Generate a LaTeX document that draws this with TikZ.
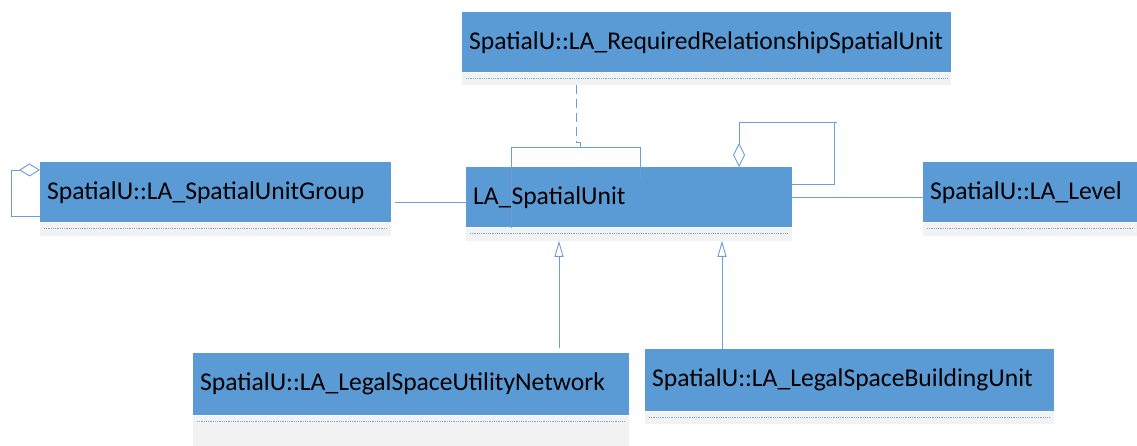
\documentclass[tikz,border=0pt]{standalone}
\usepackage{fontspec}
\setmainfont{Carlito}
\usetikzlibrary{arrows.meta}
\definecolor{boxblue}{HTML}{5B9BD5}
\definecolor{linkblue}{HTML}{6A9FD6}
\definecolor{stripgray}{HTML}{F2F2F2}

\begin{document}
\begin{tikzpicture}[x=1pt,y=1pt,
  cls/.style={fill=boxblue, anchor=north west, inner xsep=7pt, inner ysep=0pt,
    minimum height=60pt, align=left, font=\fontsize{25.6}{28}\selectfont},
  strip/.style={fill=stripgray, anchor=north west, inner sep=0pt},
  dots/.style={draw=boxblue!85, line width=1.1pt, dash pattern=on 1pt off 0.8pt},
  link/.style={draw=linkblue, line width=0.9pt},
  dep/.style={link, dash pattern=on 9pt off 5pt},
  agg/.style={link, -{Diamond[open, fill=white]}},
  inh/.style={link, -{Triangle[open, fill=white, length=16pt, width=9pt]}}]
  \useasboundingbox (0,0) rectangle (1137,-446);
  % classes
  \node[cls, text width=475pt] (req) at (462,-12) {SpatialU::LA\_RequiredRelationshipSpatialUnit};
  \node[strip, minimum width=489pt, minimum height=12pt] (reqS) at (req.south west) {};
  \node[cls, text width=312pt] (su) at (466,-167) {LA\_SpatialUnit};
  \node[strip, minimum width=326pt, minimum height=13pt] (suS) at (su.south west) {};
  \node[cls, text width=337pt] (sug) at (40,-162) {SpatialU::LA\_SpatialUnitGroup};
  \node[strip, minimum width=351pt, minimum height=13pt] (sugS) at (sug.south west) {};
  \node[cls, text width=200pt] (lvl) at (923,-162) {SpatialU::LA\_Level};
  \node[strip, minimum width=214pt, minimum height=13pt] (lvlS) at (lvl.south west) {};
  \node[cls, text width=422pt, minimum height=62pt] (net) at (193,-353) {SpatialU::LA\_LegalSpaceUtilityNetwork};
  \node[strip, minimum width=436pt, minimum height=31pt] (netS) at (net.south west) {};
  \node[cls, text width=395pt, minimum height=62pt] (bld) at (645,-349) {SpatialU::LA\_LegalSpaceBuildingUnit};
  \node[strip, minimum width=409pt, minimum height=12pt] (bldS) at (bld.south west) {};
  \foreach \s in {reqS,suS,sugS,lvlS,netS,bldS}
    \draw[dots] ([shift={(4pt,-6.5pt)}]\s.north west) -- ([shift={(-4pt,-6.5pt)}]\s.north east);

  % dependency and its bracket
  \coordinate (dp) at (576,-142);
  \draw[dep] (dp |- reqS.south) -- (dp);
  \draw[link] (dp) -- ++(4,0) -- ++(0,-5);
  \coordinate (bl) at (511,-147);
  \coordinate (br) at (640,-147);
  \draw[link] (511,-228) -- (bl) -- (br) -- (640,-178);

  % aggregations
  \coordinate (ag0) at (834,-184);
  \coordinate (ag1) at (834,-122);
  \coordinate (dm) at (739,-167);
  \draw[agg, -{Diamond[open, fill=white, length=24pt, width=12pt]}] (su.east |- ag0) -| (ag1) -| (dm |- su.north);
  \draw[link] (ag1) -- ++(3,0);
  \coordinate (sg) at (11,-216);
  \coordinate (sg2) at (40,-170);
  \draw[agg, -{Diamond[open, fill=white, length=21pt, width=13pt]}] (sug.west |- sg) -- (sg) |- (sg2);

  % associations
  \coordinate (sa) at (395,-202);
  \draw[link] (sa) -- (sa -| su.west);
  \draw[link] (su.east) -- (su.east -| lvl.west);

  % generalisations
  \coordinate (inA) at (559,-348);
  \coordinate (inB) at (722,-349);
  \draw[inh] (inA) -- (inA |- suS.south);
  \draw[inh] (inB) -- (inB |- suS.south);
\end{tikzpicture}
\end{document}
